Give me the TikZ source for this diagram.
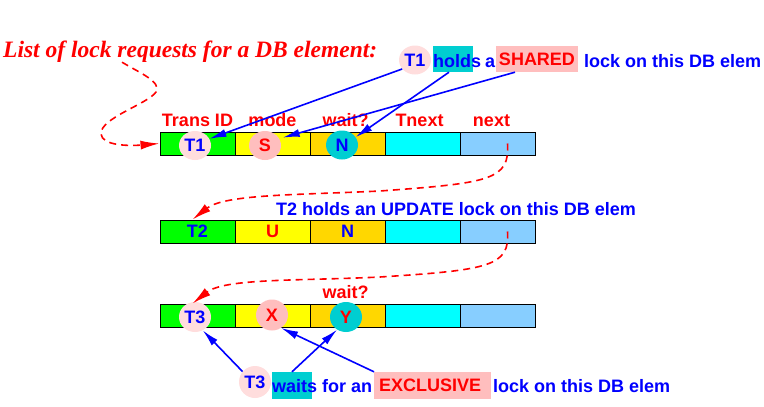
\documentclass[tikz,border=0pt]{standalone}
\usepackage{fontspec}
\setmainfont{Liberation Sans}
\newfontfamily\titlefont{Liberation Serif}
\usetikzlibrary{arrows.meta,shapes.geometric}

\definecolor{cellgreen}{RGB}{0,255,0}
\definecolor{cellyellow}{RGB}{255,255,0}
\definecolor{cellgold}{RGB}{255,215,0}
\definecolor{cellcyan}{RGB}{0,255,255}
\definecolor{cellblue}{RGB}{135,206,255}
\definecolor{dotpink}{RGB}{255,221,221}
\definecolor{dotsalmon}{RGB}{255,190,190}
\definecolor{dotcyan}{RGB}{0,206,209}
\definecolor{txtblue}{RGB}{0,0,255}
\definecolor{txtred}{RGB}{255,0,0}

\tikzset{
  cell/.style={draw, line width=1pt, minimum width=75pt, minimum height=23pt, inner sep=0pt},
  dot/.style={ellipse, minimum width=32pt, minimum height=29pt, inner sep=0pt},
  txt/.style={anchor=base west, inner sep=0pt},
  hdr/.style={text=txtred, inner sep=0pt},
  boxcyan/.style={fill=dotcyan, minimum width=40pt, minimum height=26pt, inner sep=0pt},
  boxpink/.style={fill=dotsalmon, text=txtred, minimum height=26pt, inner sep=0pt},
  bluearrow/.style={draw=txtblue, line width=1.6pt, -{Latex[length=17pt,width=8pt]}},
  redcurve/.style={draw=txtred, line width=1.6pt, dash pattern=on 7pt off 5pt, -{Latex[length=19pt,width=9pt]}}
}

\begin{document}
\begin{tikzpicture}[x=1pt, y=-1pt, font=\fontsize{18}{20}\selectfont\bfseries]
  \useasboundingbox (0,0) rectangle (764,407);

  % the three list entries
  \foreach \r/\y in {1/143.5, 2/231.5, 3/315.5}
    \foreach \c/\col in {1/cellgreen, 2/cellyellow, 3/cellgold, 4/cellcyan, 5/cellblue}
      \node[cell, fill=\col] (c\r\c) at ({122.5+75*\c}, \y) {};

  \node[anchor=base west, inner sep=0pt, text=txtred,
        font=\titlefont\fontsize{23.5}{26}\selectfont\bfseries\itshape] (title) at (3,57)
        {List of lock requests for a DB element:};

  % field names
  \foreach \c/\h/\dx in {1/Trans ID/0, 2/mode/0, 3/wait?/-2, 4/Tnext/-3, 5/next/-6}
    \node[hdr, above=5pt, xshift=\dx pt] (h\c) at (c1\c.north) {\h};
  \node[hdr, above=5pt, xshift=-2pt] (h33) at (c33.north) {wait?};

  % first entry
  \node[dot, fill=dotpink, text=txtblue] (t1) at (195,145.5) {T1};
  \node[dot, fill=dotsalmon, text=txtred] (s1) at (265,145.5) {S};
  \node[dot, fill=dotcyan, text=txtblue] (n1) at (342,145) {N};

  \node[boxcyan] (holdbox) at (453,59) {};
  \node[dot, fill=dotpink, text=txtblue] (t1top) at (415,60) {T1};
  \node[txt, text=txtblue] (holds) at (433,67) {holds};
  \node[txt, text=txtblue] (a1) at (485,67) {a};
  \node[boxpink, minimum width=82pt] (shared) at (537,59) {SHARED};
  \node[txt, text=txtblue] (lock1) at (584,67) {lock on this DB elem};

  % second entry
  \node[text=txtblue] (t2) at (c21.center) {T2};
  \node[text=txtred] (u2) at (c22.center) {U};
  \node[text=txtblue] (n2) at (c23.center) {N};
  \node[txt, text=txtblue] (note2) at (276,215) {T2 holds an UPDATE lock on this DB elem};

  % third entry
  \node[dot, fill=dotpink, text=txtblue, minimum height=30pt] (t3) at (195,317) {T3};
  \node[dot, fill=dotsalmon, text=txtred, minimum height=31pt] (x3) at (272,315) {X};
  \node[dot, fill=dotcyan, text=txtred, minimum height=30pt] (y3) at (346,317) {Y};

  \node[boxcyan, minimum height=27pt] (waitbox) at (292,385.5) {};
  \node[dot, fill=dotpink, text=txtblue, minimum height=32pt] (t3bot) at (255,382) {T3};
  \node[txt, text=txtblue] (waits) at (272,392) {waits};
  \node[txt, text=txtblue] (foran) at (322,392) {for an};
  \node[boxpink, anchor=west, text width=107pt, inner xsep=5pt, minimum height=27pt] (excl) at (374,385.5) {EXCLUSIVE};
  \node[txt, text=txtblue] (lock3) at (493,392) {lock on this DB elem};

  % pointers to the fields
  \draw[bluearrow] (t1top.215) -- (t1.25);
  \draw[bluearrow] ([xshift=-4pt]holdbox.south) -- (n1.30);
  \draw[bluearrow] ([xshift=-22pt]shared.south) -- ([xshift=4pt]s1.30);
  \draw[bluearrow] (t3bot.140) -- (t3.-60);
  \draw[bluearrow] (waitbox.north) -- (y3.235);
  \draw[bluearrow] (excl.north west) -- (x3.-55);

  % links of the list
  \draw[redcurve] ([xshift=119pt]title.south west) .. controls (140,73) and (162,82) .. (156,92)
    .. controls (148,104) and (100,118) .. (101,134) .. controls (102,146) and (130,146) .. (c11.west);
  \draw[redcurve] ([xshift=10pt]c15.center) .. controls (510,180) and (490,183) .. (380,191)
    .. controls (300,195) and (225,194) .. ([xshift=-5pt]c21.north);
  \draw[redcurve] ([xshift=10pt]c25.center) .. controls (510,266) and (490,270) .. (380,277)
    .. controls (300,281) and (225,278) .. ([xshift=-5pt]c31.north);
\end{tikzpicture}
\end{document}
